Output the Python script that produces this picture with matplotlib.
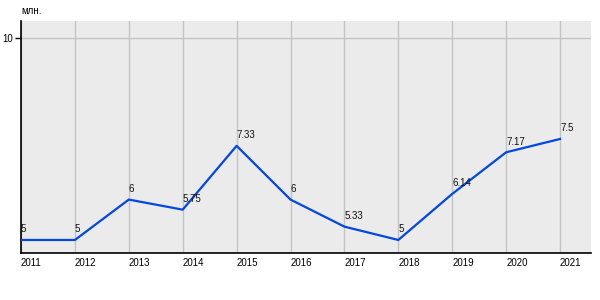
import matplotlib
matplotlib.use('Agg')
import matplotlib.pyplot as plt

years = [2011, 2012, 2013, 2014, 2015, 2016, 2017, 2018, 2019, 2020, 2021]
values = [5, 5, 6, 5.75, 7.33, 6, 5.33, 5, 6.14, 7.17, 7.5]
labels = ['5', '5', '6', '5.75', '7.33', '6', '5.33', '5', '6.14', '7.17', '7.5']

plt.rcParams['font.family'] = ['Liberation Sans', 'DejaVu Sans']

fig = plt.figure(figsize=(6, 3), dpi=100)
ax = fig.add_axes([0.035, 0.157, 0.95, 0.773])
ax.set_facecolor('#ebebeb')

ax.plot(years, values, color='#0047e6', linewidth=1.6, zorder=3)
for x, y, t in zip(years, values, labels):
    ax.annotate(t, (x, y), xytext=(0, 4), textcoords='offset points',
                ha='left', va='bottom', fontsize=7, color='#111111')

ax.set_xlim(2011, 2021.575)
ax.set_ylim(4.68, 10.42)
ax.set_xticks(years)
ax.set_xticklabels([str(y) for y in years], ha='left')
ax.set_yticks([10])
ax.set_yticklabels(['10'])
ax.grid(True, color='#c4c4c4', linewidth=1)
ax.set_axisbelow(True)
ax.tick_params(axis='x', length=0, pad=4, labelsize=7)
ax.tick_params(axis='y', length=4, width=1, pad=2, labelsize=7)
for s in ['top', 'right']:
    ax.spines[s].set_visible(False)
for s in ['left', 'bottom']:
    ax.spines[s].set_linewidth(1.2)
    ax.spines[s].set_color('black')

fig.text(0.035, 0.945, 'млн.', fontsize=7, ha='left', va='bottom')

fig.savefig('out.png', dpi=100)
